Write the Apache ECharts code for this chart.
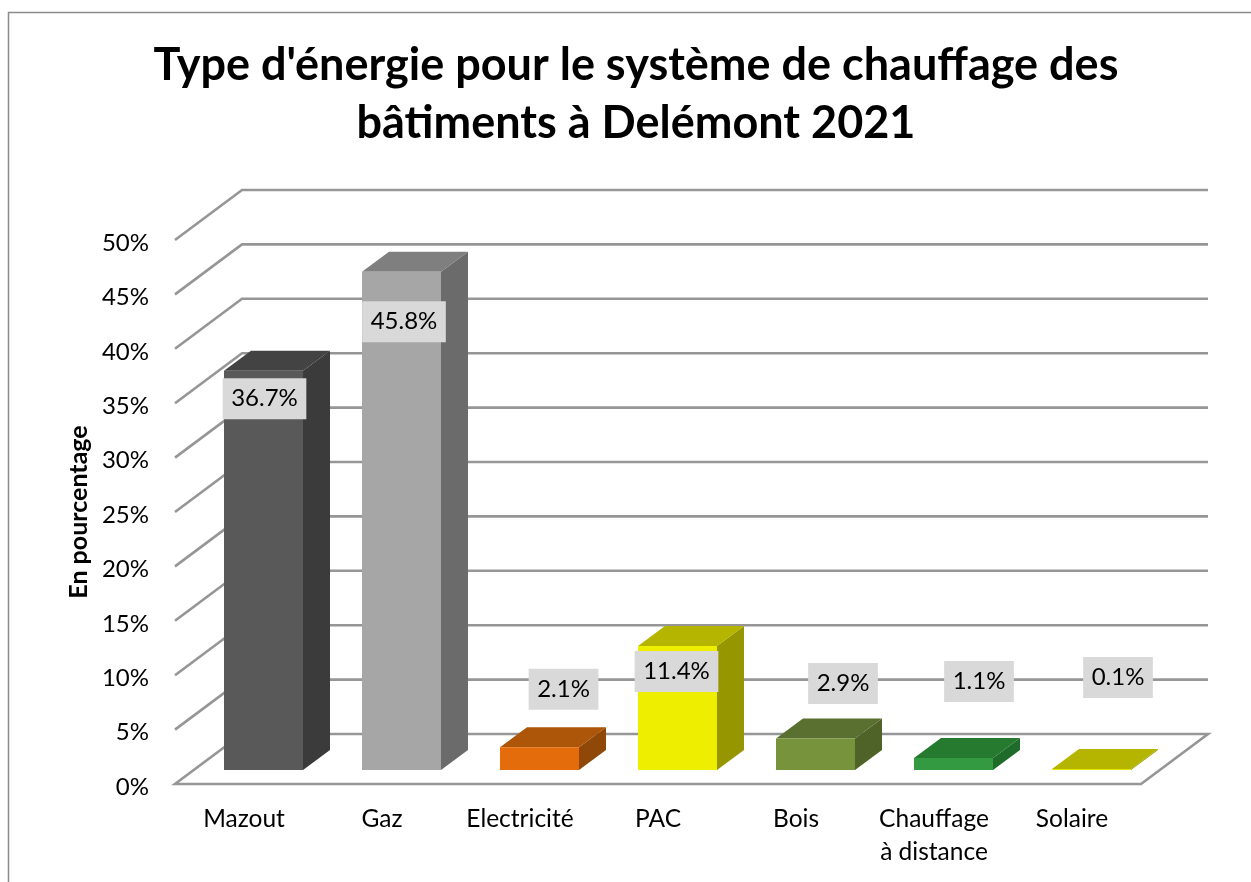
<!DOCTYPE html>
<html>
<head>
<meta charset="utf-8">
<title>Type d'énergie</title>
<style>
html, body { margin: 0; padding: 0; background: #fff; }
#chart { width: 1251px; height: 882px; }
</style>
<script src="https://cdn.jsdelivr.net/npm/echarts@6/dist/echarts.min.js"></script>
</head>
<body>
<div id="chart"></div>
<script>
var categories = ['Mazout', 'Gaz', 'Electricité', 'PAC', 'Bois', 'Chauffage\nà distance', 'Solaire'];
var shares = [36.7, 45.8, 2.1, 11.4, 2.9, 1.1, 0.1];
var yTicks = [0, 5, 10, 15, 20, 25, 30, 35, 40, 45, 50];

var frontColors = ['#595959', '#a6a6a6', '#e46c0a', '#eeee00', '#77933c', '#339a42', '#e6e600'];
var topColors = ['#434343', '#7f7f7f', '#ad5508', '#b5b500', '#5a7030', '#257a30', '#b5b500'];
var sideColors = ['#3b3b3b', '#6b6b6b', '#8f4807', '#969600', '#4f6228', '#1f6b2a', '#969600'];

// where each data label sits, relative to the top centre of the bar front
var labelShift = [[1, 28], [2.5, 50], [24, -58], [-1, 25.5], [27.5, -55], [25.5, -76.5], [26.5, -91.5]];

var fontName = 'Lato, "Open Sans", sans-serif';
var lineColor = '#969696';

// fake 3D: back wall offset of the chart, and offset/depth of the bars
var wallDx = 67, wallDy = -50;
var barDx = 19.5, barDy = -14;
var depthDx = 27, depthDy = -20;
var barRatio = 79 / 138;

function renderFrame(params, api) {
    var cs = params.coordSys;
    var tick = api.value(1);
    var y = api.coord([0, tick])[1];
    var x0 = cs.x, x1 = cs.x + cs.width;
    if (tick === 0) {
        return {
            type: 'polygon',
            shape: { points: [[x0, y], [x1, y], [x1 + wallDx, y + wallDy], [x0 + wallDx, y + wallDy]] },
            style: { stroke: lineColor, lineWidth: 2.6, fill: '#fff' }
        };
    }
    return {
        type: 'polyline',
        shape: { points: [[x0, y], [x0 + wallDx, y + wallDy], [x1 + wallDx, y + wallDy]] },
        style: { stroke: lineColor, lineWidth: 2.6, fill: 'none' }
    };
}

function renderBar(params, api) {
    var i = params.dataIndex;
    var top = api.coord([api.value(0), api.value(1)]);
    var base = api.coord([api.value(0), 0]);
    var w = api.size([1, 0])[0] * barRatio;
    var left = top[0] + barDx - w / 2;
    var right = left + w;
    var yTop = top[1] + barDy;
    var yBase = base[1] + barDy;
    var shift = labelShift[i];
    return {
        type: 'group',
        children: [
            {
                type: 'polygon',
                shape: { points: [[right, yTop], [right + depthDx, yTop + depthDy], [right + depthDx, yBase + depthDy], [right, yBase]] },
                style: { fill: sideColors[i] }
            },
            {
                type: 'polygon',
                shape: { points: [[left, yTop], [right, yTop], [right + depthDx, yTop + depthDy], [left + depthDx, yTop + depthDy]] },
                style: { fill: topColors[i] }
            },
            {
                type: 'rect',
                shape: { x: left, y: yTop, width: w, height: yBase - yTop },
                style: { fill: frontColors[i] }
            },
            {
                type: 'text',
                x: left + w / 2 + shift[0],
                y: yTop + shift[1],
                style: {
                    text: api.value(1).toFixed(1) + '%',
                    font: '24px ' + fontName,
                    fill: '#000',
                    align: 'center',
                    verticalAlign: 'middle',
                    backgroundColor: '#d9d9d9',
                    padding: [8.5, 8.5]
                }
            }
        ]
    };
}

var option = {
    animation: false,
    backgroundColor: '#fff',
    title: {
        text: "Type d'énergie pour le système de chauffage des\nbâtiments à Delémont 2021",
        left: 631,
        top: 31,
        textAlign: 'center',
        textStyle: {
            fontFamily: fontName,
            fontWeight: 'bold',
            fontSize: 45,
            lineHeight: 58,
            color: '#000'
        }
    },
    grid: { left: 175, top: 240, width: 966, height: 544 },
    xAxis: {
        type: 'category',
        data: categories,
        axisLine: { show: false },
        axisTick: { show: false },
        axisLabel: {
            fontFamily: fontName,
            fontSize: 24.5,
            lineHeight: 33,
            color: '#000',
            margin: 19,
            verticalAlign: 'top',
            interval: 0
        }
    },
    yAxis: {
        type: 'value',
        min: 0,
        max: 50,
        interval: 5,
        name: 'En pourcentage',
        nameLocation: 'middle',
        nameGap: 81,
        nameTextStyle: {
            fontFamily: fontName,
            fontWeight: 'bold',
            fontSize: 25,
            color: '#000'
        },
        axisLine: { show: false },
        axisTick: { show: false },
        splitLine: { show: false },
        axisLabel: {
            formatter: '{value}%',
            fontFamily: fontName,
            fontSize: 24,
            color: '#000',
            margin: 26,
            verticalAlign: 'top',
            lineHeight: 6
        }
    },
    graphic: [
        {
            type: 'polyline',
            shape: { points: [[8.5, 882], [8.5, 12.5], [1251, 12.5]] },
            style: { stroke: '#8c8c8c', lineWidth: 1.5, fill: 'none' },
            silent: true
        }
    ],
    series: [
        {
            type: 'custom',
            silent: true,
            renderItem: renderFrame,
            data: yTicks.map(function (t) { return [0, t]; }),
            encode: { x: 0, y: 1 }
        },
        {
            type: 'custom',
            silent: true,
            renderItem: renderBar,
            data: shares.map(function (v, i) { return [i, v]; }),
            encode: { x: 0, y: 1 }
        }
    ]
};

var chart = echarts.init(document.getElementById('chart'), null, { renderer: 'canvas' });
chart.setOption(option);
</script>
</body>
</html>
